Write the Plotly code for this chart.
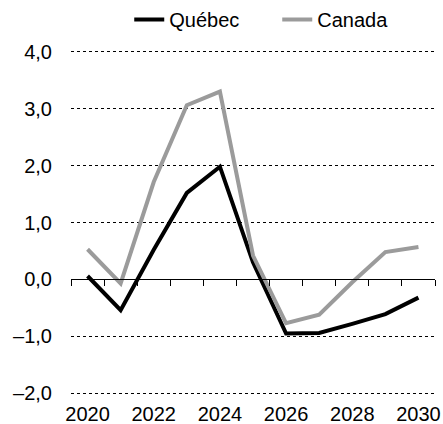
import plotly.graph_objects as go

years = [2020, 2021, 2022, 2023, 2024, 2025, 2026, 2027, 2028, 2029, 2030]
quebec = [0.06, -0.54, 0.52, 1.52, 1.98, 0.30, -0.95, -0.94, -0.78, -0.61, -0.32]
canada = [0.53, -0.07, 1.71, 3.06, 3.30, 0.42, -0.77, -0.62, -0.05, 0.48, 0.57]

y_ticks = [-2, -1, 0, 1, 2, 3, 4]
y_labels = ["–2,0", "–1,0", "0,0", "1,0", "2,0", "3,0", "4,0"]
x_ticks = [2020, 2022, 2024, 2026, 2028, 2030]
x_bounds = [y + 0.5 for y in [2019] + years]

font = dict(family="Liberation Sans, Arial, sans-serif", size=20, color="black")

fig = go.Figure()
fig.add_trace(go.Scatter(x=years, y=quebec, mode="lines", name="Québec",
                         line=dict(color="black", width=4)))
fig.add_trace(go.Scatter(x=years, y=canada, mode="lines", name="Canada",
                         line=dict(color="#9b9b9b", width=4)))
# invisible trace to activate the zero-line axis
fig.add_trace(go.Scatter(x=[years[0]], y=[0], xaxis="x2", mode="markers",
                         marker=dict(opacity=0), showlegend=False, hoverinfo="skip"))

pad = 0.03
fig.update_layout(
    width=443, height=424,
    margin=dict(l=71, r=8, t=50, b=29, autoexpand=False),
    paper_bgcolor="white", plot_bgcolor="white",
    font=font,
    showlegend=True,
    legend=dict(orientation="h", x=0.16, xanchor="left",
                yref="container", y=1.0, yanchor="top",
                font=font, itemwidth=30, entrywidth=103, traceorder="normal",
                tracegroupgap=0),
    xaxis=dict(range=[2019.5, 2030.5], tickmode="array", tickvals=x_ticks,
               showgrid=False, zeroline=False, showline=False, ticks="",
               ticklabelstandoff=5, automargin=False),
    xaxis2=dict(range=[2019.5, 2030.5], overlaying="x", anchor="free",
                position=(0 - (-2 - pad)) / (6 + 2 * pad),
                side="bottom", showline=True, linecolor="black", linewidth=1,
                ticks="outside", tickvals=x_bounds, ticklen=6, tickcolor="black",
                tickwidth=1, showticklabels=False, showgrid=False, zeroline=False,
                automargin=False),
    yaxis=dict(range=[-2 - pad, 4 + pad], tickmode="array", tickvals=y_ticks,
               ticktext=y_labels,
               showgrid=True, gridcolor="black", gridwidth=1, griddash="dot",
               zeroline=False, showline=False, ticks="", ticklabelstandoff=18,
               automargin=False),
)

fig.write_html("out.html", config={"displayModeBar": False},
               post_script="document.body.style.margin='0';")
